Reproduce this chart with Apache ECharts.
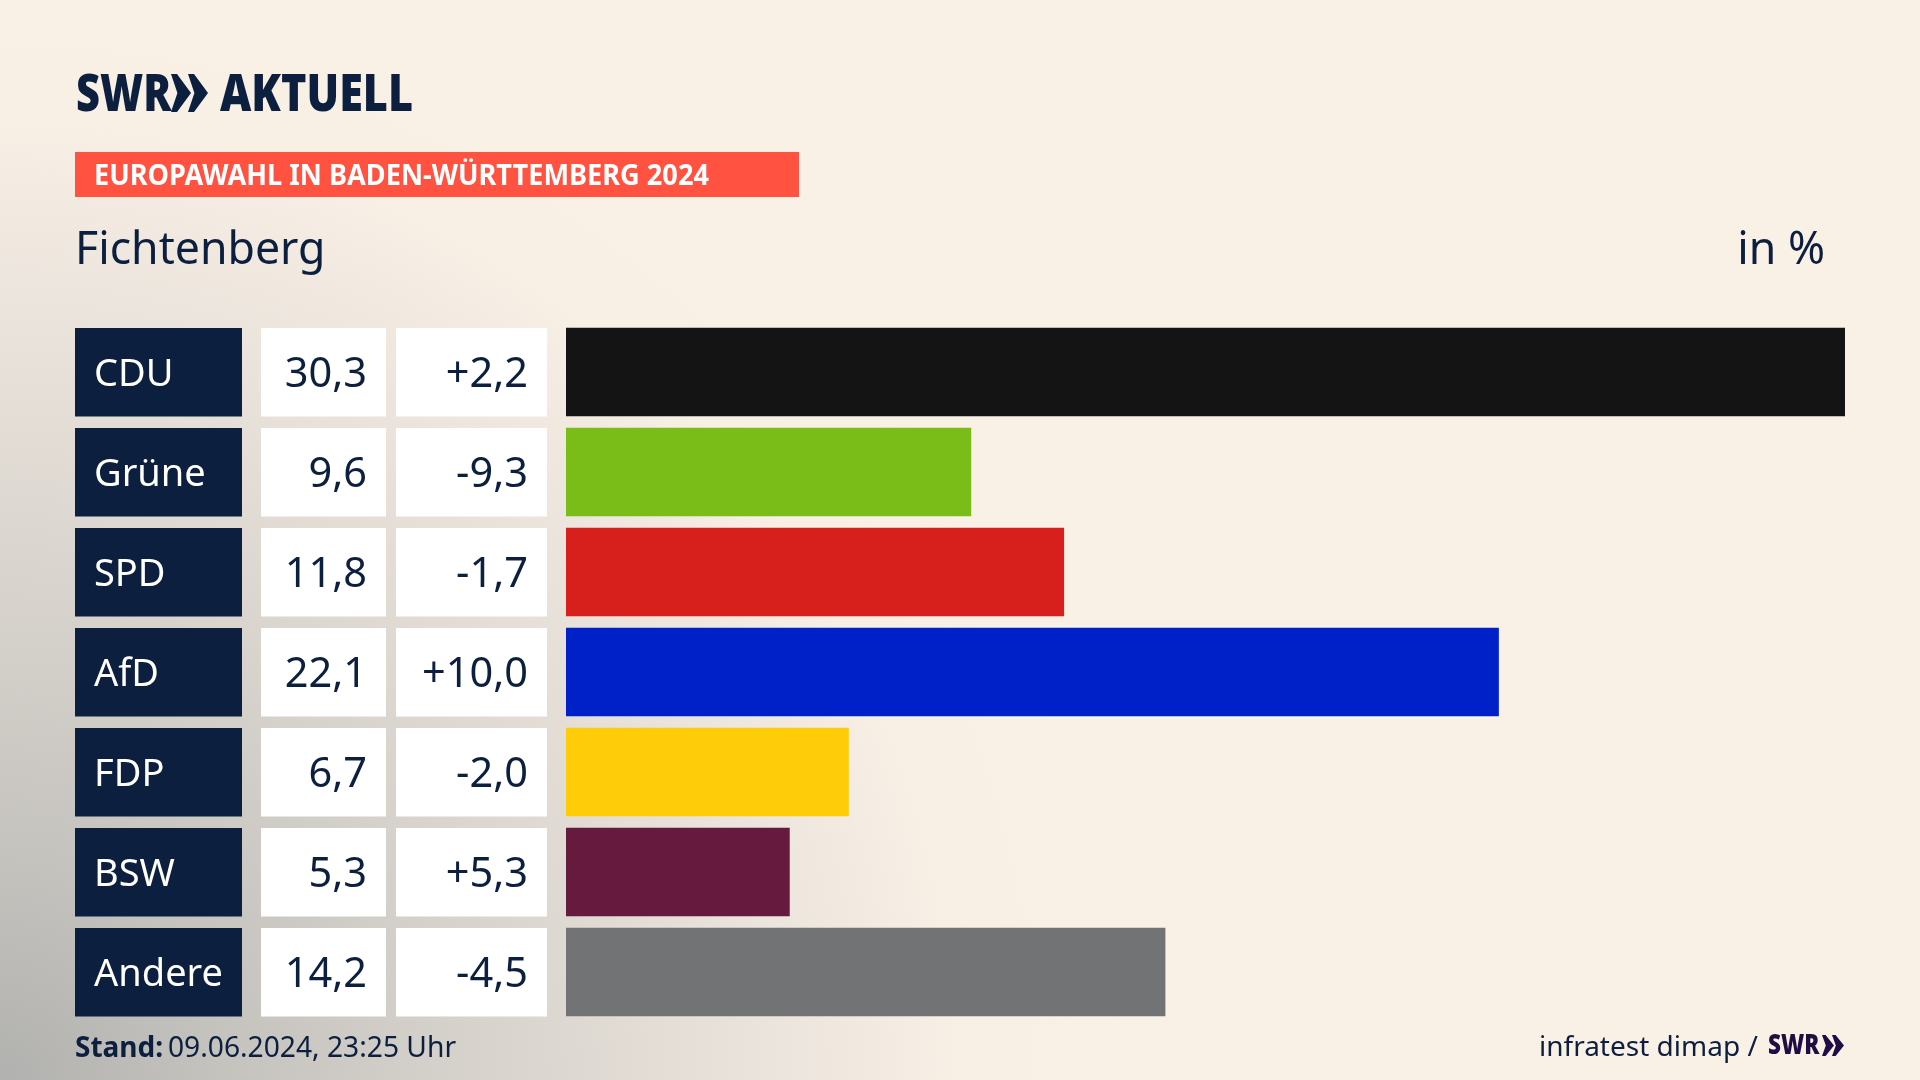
<!DOCTYPE html>
<html>
<head>
<meta charset="utf-8">
<style>
html, body { margin: 0; padding: 0; background: #faf1e6; }
#chart { width: 1920px; height: 1080px; }
</style>
<script src="https://cdn.jsdelivr.net/npm/echarts@6/dist/echarts.min.js"></script>
</head>
<body>
<div id="chart"></div>
<script>
const parties = ['CDU', 'Grüne', 'SPD', 'AfD', 'FDP', 'BSW', 'Andere']
const shares = [30.3, 9.6, 11.8, 22.1, 6.7, 5.3, 14.2]
const changes = [2.2, -9.3, -1.7, 10.0, -2.0, 5.3, -4.5]
const partyColors = ['#141414', '#7abd19', '#d7201c', '#0021c7', '#ffcc0a', '#651a3e', '#727375']

const navy = '#0c1f3f'
const font = '"Noto Sans"'

function fmtShare(v) {
    return v.toFixed(1).replace('.', ',')
}

function fmtChange(v) {
    return (v > 0 ? '+' : '') + v.toFixed(1).replace('.', ',')
}

// one table column next to the bars: box plus text per row
function cellSeries(x, w, fill, color, align, size, getText) {
    return {
        type: 'custom',
        silent: true,
        clip: false,
        data: parties.map((p, i) => [0, i]),
        renderItem: (params, api) => {
            const cy = api.coord([0, params.dataIndex])[1]
            return {
                type: 'group',
                children: [
                    { type: 'rect', shape: { x: x, y: cy - 44, width: w, height: 88.5 }, style: { fill: fill } },
                    {
                        type: 'text',
                        style: {
                            text: getText(params.dataIndex),
                            x: align === 'left' ? x + 19 : x + w - 19,
                            y: cy + 3,
                            fill: color,
                            font: size + 'px ' + font,
                            align: align,
                            verticalAlign: 'middle'
                        }
                    }
                ]
            }
        }
    }
}

function label(text, x, y, size, opts) {
    const o = opts || {}
    return {
        type: 'text',
        x: x,
        y: y,
        scaleX: o.scaleX || 1,
        style: {
            text: text,
            fill: o.color || navy,
            font: (o.weight || 'normal') + ' ' + size + 'px ' + font,
            align: o.align || 'left',
            verticalAlign: 'middle'
        }
    }
}

function chevrons(x, top, h, w, gap, color) {
    const one = (x0) => ({
        type: 'polygon',
        shape: {
            points: [
                [x0, top], [x0 + w * 0.3, top], [x0 + w, top + h / 2],
                [x0 + w * 0.3, top + h], [x0, top + h], [x0 + w * 0.32, top + h / 2]
            ]
        },
        style: { fill: color }
    })
    return [one(x), one(x + gap)]
}

const chart = echarts.init(document.getElementById('chart'))

chart.setOption({
    animation: false,
    backgroundColor: {
        type: 'radial',
        x: 0,
        y: 1080,
        r: 1130,
        global: true,
        colorStops: [
            { offset: 0, color: '#b1b1af' },
            { offset: 0.2, color: '#c5c3be' },
            { offset: 0.45, color: '#d9d4ce' },
            { offset: 0.68, color: '#ebe4dc' },
            { offset: 0.85, color: '#f8efe5' },
            { offset: 1, color: '#faf1e6' }
        ]
    },
    grid: { left: 566, width: 1279, top: 322, height: 700 },
    xAxis: { type: 'value', min: 0, max: 30.3, show: false },
    yAxis: { type: 'category', data: parties, inverse: true, show: false },
    series: [
        {
            type: 'bar',
            barWidth: 88.5,
            silent: true,
            data: shares.map((v, i) => ({ value: v, itemStyle: { color: partyColors[i] } }))
        },
        cellSeries(75, 167, navy, '#ffffff', 'left', 38, i => parties[i]),
        cellSeries(261, 125, '#ffffff', navy, 'right', 41.5, i => fmtShare(shares[i])),
        cellSeries(396, 151, '#ffffff', navy, 'right', 41.5, i => fmtChange(changes[i]))
    ],
    graphic: [
        label('SWR', 76, 96, 52, { weight: 900, scaleX: 0.8 }),
        ...chevrons(171, 74, 38, 20, 17, navy),
        label('AKTUELL', 220, 96, 52, { weight: 900, scaleX: 0.83 }),
        { type: 'rect', shape: { x: 75, y: 152, width: 724, height: 45 }, style: { fill: '#ff5240' } },
        label('EUROPAWAHL IN BADEN-WÜRTTEMBERG 2024', 94, 177, 28, { weight: 'bold', color: '#ffffff', scaleX: 0.97 }),
        label('Fichtenberg', 75, 251, 46, { scaleX: 0.97 }),
        label('in %', 1825, 251, 46, { align: 'right', scaleX: 0.97 }),
        label('Stand:', 75, 1049, 28, { weight: 'bold' }),
        label('09.06.2024, 23:25 Uhr', 168, 1049, 28.2),
        label('infratest dimap /', 1539, 1048, 28),
        label('SWR', 1768, 1046, 28, { weight: 900, color: '#200d44', scaleX: 0.8 }),
        ...chevrons(1822, 1035, 21, 12, 10, '#200d44')
    ]
})
</script>
</body>
</html>
